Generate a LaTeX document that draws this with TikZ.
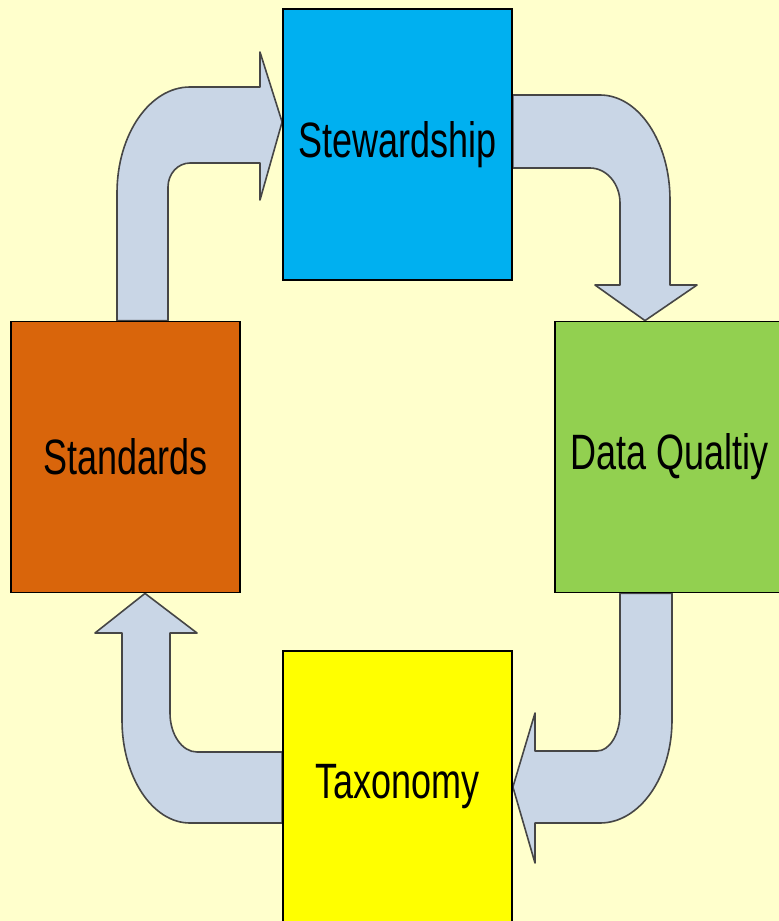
\documentclass[tikz,border=0pt]{standalone}
\usepackage{fontspec}
\setmainfont{Liberation Sans}
\usepackage{graphicx}
\usepackage{xcolor}
\usetikzlibrary{backgrounds}
\definecolor{mybg}{RGB}{255,255,204}
\definecolor{myblue}{RGB}{0,176,240}
\definecolor{myorange}{RGB}{217,101,11}
\definecolor{mygreen}{RGB}{146,208,80}
\definecolor{myyellow}{RGB}{255,255,0}
\definecolor{myarrow}{RGB}{201,214,230}
\definecolor{myedge}{RGB}{70,70,70}

\tikzset{
  box/.style={draw=black, line width=1.8pt, minimum width=229pt, minimum height=271pt,
    inner sep=0pt, font=\fontsize{36}{40}\selectfont},
  bent/.style={fill=myarrow, draw=myedge, line width=1.6pt, line join=round}
}
\newcommand{\tall}[1]{\scalebox{1}[1.38]{#1}}

\begin{document}
\begin{tikzpicture}[x=1pt,y=1pt]
\useasboundingbox (0,0) rectangle (779,-921);
\clip (0,0) rectangle (779,-921);

\node[box, fill=myblue] (stew) at (397.5,-144.5) {\tall{Stewardship}};
\node[box, fill=myorange] (std) at (125.5,-457) {\tall{Standards}};
\node[box, fill=mygreen] (dq) at (669.5,-457) {\tall{Data Qualtiy}};
\node[box, fill=myyellow] (tax) at (397.5,-786.5) {\tall{Taxonomy}};

\begin{scope}[on background layer]
\fill[mybg] (0,0) rectangle (779,-921);

% standards -> stewardship
\draw[bent] (117,0 |- std.north) -- (117,-193)
  arc[start angle=180, end angle=90, x radius=73pt, y radius=106pt]
  -- (260,-87) -- (260,-52) -- (stew.west |- 0,-122) -- (260,-200) -- (260,-163) -- (190,-163)
  arc[start angle=90, end angle=180, x radius=22pt, y radius=24pt]
  -- (168,0 |- std.north) -- cycle;

% stewardship -> data quality
\draw[bent] (stew.east |- 0,-95) -- (600,-95)
  arc[start angle=90, end angle=0, x radius=70pt, y radius=105pt]
  -- (670,-285) -- (697,-285) -- (645,0 |- dq.north) -- (595,-285) -- (620,-285) -- (620,-203)
  arc[start angle=0, end angle=90, x radius=30pt, y radius=35pt]
  -- (stew.east |- 0,-168) -- cycle;

% data quality -> taxonomy
\draw[bent] (620,0 |- dq.south) -- (620,-713)
  arc[start angle=0, end angle=-90, x radius=23pt, y radius=38pt]
  -- (535,-751) -- (535,-713) -- (tax.east |- 0,-787) -- (535,-863) -- (535,-823) -- (600,-823)
  arc[start angle=-90, end angle=0, x radius=72pt, y radius=103pt]
  -- (672,0 |- dq.south) -- cycle;

% taxonomy -> standards
\draw[bent] (tax.west |- 0,-752) -- (197,-752)
  arc[start angle=-90, end angle=-180, x radius=27pt, y radius=39pt]
  -- (170,-633) -- (197,-633) -- (145,0 |- std.south) -- (95,-633) -- (122,-633) -- (122,-720)
  arc[start angle=180, end angle=270, x radius=68pt, y radius=103pt]
  -- (tax.west |- 0,-823) -- cycle;
\end{scope}
\end{tikzpicture}
\end{document}
